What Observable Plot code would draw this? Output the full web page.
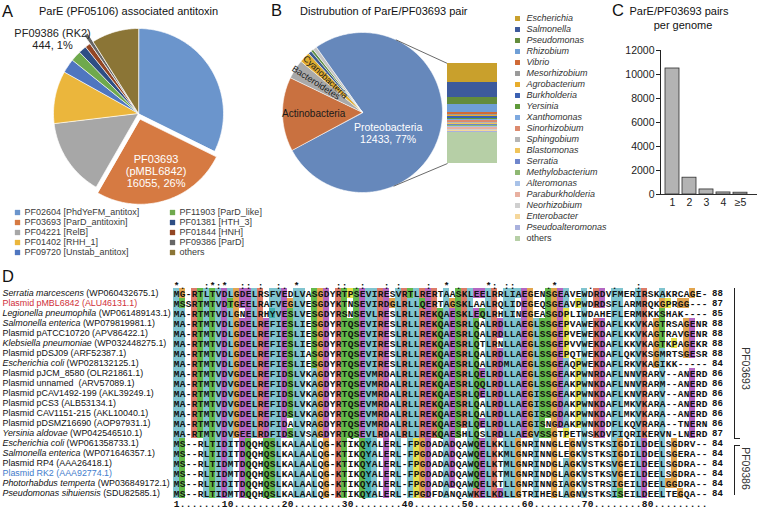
<!DOCTYPE html>
<html><head><meta charset="utf-8">
<script src="https://cdn.jsdelivr.net/npm/d3@7"></script>
<script src="https://cdn.jsdelivr.net/npm/@observablehq/plot@0.6"></script>
<style>
html,body{margin:0;padding:0;background:#fff;}
#fig{position:relative;width:757px;height:509px;overflow:hidden;background:#fff;font-family:"Liberation Sans",Arial,sans-serif;}
</style></head><body><div id="fig"></div>
<script>
// ---------------- DATA ----------------
// Panel A: ParE-associated antitoxin families
const antitoxinFamilies = ["PF02604 [PhdYeFM_antitox]","PF03693 [ParD_antitoxin]","PF04221 [RelB]","PF01402 [RHH_1]","PF09720 [Unstab_antitox]","PF11903 [ParD_like]","PF01381 [HTH_3]","PF01844 [HNH]","PF09386 [ParD]","others"];
const antitoxinCounts = [19945,16055,9139,6175,1667,1235,926,618,444,5546];
const antitoxinCallouts = ["","PF03693\n(pMBL6842)","","","","","","","PF09386 (RK2)",""];

// Panel B: phyla and Proteobacteria genera
const phyla = ["Proteobacteria","Actinobacteria","Bacteroidetes","Cyanobacteria","minor phylum 1","minor phylum 2","minor phylum 3"];
const phylaCounts = [12433,2420,630,355,110,80,119];
const genera = ["Escherichia","Salmonella","Pseudomonas","Rhizobium","Vibrio","Mesorhizobium","Agrobacterium","Burkholderia","Yersinia","Xanthomonas","Sinorhizobium","Sphingobium","Blastomonas","Serratia","Methylobacterium","Alteromonas","Paraburkholderia","Neorhizobium","Enterobacter","Pseudoalteromonas","others"];
const generaCounts = [2360,1870,870,990,190,180,175,175,165,155,155,150,150,145,145,140,135,130,125,125,3903];

// Panel C: pairs per genome
const pairsPerGenome = ["1","2","3","4","≥5"];
const genomeCounts = [10500,1400,420,170,150];
const genomeTicks = [0,2000,4000,6000,8000,10000,12000];

// Panel D: alignment
const seqSpecies = ["Serratia marcescens","","Legionella pneumophila","Salmonella enterica","","Klebsiella pneumoniae","","Escherichia coli","","","","","","","Yersinia aldovae","Escherichia coli","Salmonella enterica","","","Photorhabdus temperta","Pseudomonas sihuiensis"];
const seqLabels = ["(WP060432675.1)","Plasmid pMBL6842 (ALU46131.1)","(WP061489143.1)","(WP079819981.1)","Plasmid pATCC10720 (APV86422.1)","(WP032448275.1)","Plasmid pDSJ09 (ARF52387.1)","(WP028132125.1)","Plasmid pJCM_8580 (OLR21861.1)","Plasmid unnamed  (ARV57089.1)","Plasmid pCAV1492-199 (AKL39249.1)","Plasmid pCS3 (ALB53134.1)","Plasmid CAV1151-215 (AKL10040.1)","Plasmid pDSMZ16690 (AOP97931.1)","(WP042546510.1)","(WP061358733.1)","(WP071646357.1)","Plasmid RP4 (AAA26418.1)","Plasmid RK2 (AAA92774.1)","(WP036849172.1)","(SDU82585.1)"];
const sequences = [
"MG-RTLTVDLGDELRSFVEDLVASGDYRTPSEVIRESVRTLRERTAASKLEELRRLIAEGENSGEAVEWDRDVFMERIRSKAKRCAGE-",
"MSSRTMTVDTGEELRAFVEGLVESGDYKTNSEVIRDGLRLLQERTAGSKLAALRQLIDEGEQSGEAVPWDRDSFLARMRQKGPRGG---",
"MA-RTMTVDLGNELRHYVESLVESGDYRSNSEVLRESLRLLREKQAESKLEQLRHLINEGEASGDPLIWDAHEFLERMKKKSHAK----",
"MA-RTMTVDLGDELREFIESLIESGDYRTQSEVIRESLRLLREKQAESRLQALRDLLAEGLSSGEPVAWEKDAFLKKVKAGTRSAGENR",
"MA-RTMTVDLGDELREFIESLIESGDYRTQSEVIRESLRLLREKQAESRLQALRDLLAEGLSSGEPVEWEKDAFLKKVKAGTRAVGENR",
"MA-RTMTVDLGDELREFIESLIESGDYRTQSEVIRESLRLLREKQAESRLQTLRNLLAEGLSSGEPVVWEKDAFLKKVKAGTKPAGEKR",
"MA-RTMTVDLGDELREFIESLIASGDYRTQSEVIRESLRLLREKQAESRLQALRDLLAEGLSSGEPQTWEKDAFLQKVKSGMRTSGESR",
"MA-RTMTVDLGDELREFIESLIESGDYRTQSEVIRESLRLLREKQAESRLQALRDMLAEGLSSGEAQPWEKDAFLRKVKAGIKK-----",
"MA-RTMTVDVGDELREFIDSLVKAGDYRTQSEVMRDALRLLREKQAESRLQELRDLLAEGLSSGEAKPWNRDAFLNNVRARV--ANERD",
"MA-RTMTVDVGDELREFIDSLVKAGDYRTQSEVMRDALRLLREKQAESRLQQLRDLLAEGLSSGEAKPWNKDAFLNNVRARM--ANERD",
"MA-RTMTVDVGDELREFIDSLVKAGDYRTQSEVMRDALRLLREKQAESRLQELRDLLAEGISSGEAKPWNKDAFLKNVRARV--ANERD",
"MA-RTMTVDVGDELREFIDSLVKAGDYRTQSEVMRDALRLLREKQAESRLQALRDLLAEGISSGDAKPWNKDAFLMKVKARA--ANERD",
"MA-RTMTVDVGDELREFIDSLVKAGDYRTQSEVMRDALRLLREKQAESRLQALRDLLAEGISSGDAKPWNKDAFLMKVKARA--ANERD",
"MA-RTMTVDVGDELRDFIDALVRAGDYRTQSEVMRDALRLLREKQAESRLQELRDLLAEGISNGDAKPWNKDDFLKQVRARA--TNERN",
"MA-RTMTVDVGEELRDFIDSLVSAGDYRTQSEVLRDALRLLREKQAESHLQSLRDLLAEGVSSGTPETWSKDVFIQRIKERVN-LNERD",
"MS--RLTIDITDQQHQSLKALAALQG-KTIKQYALERL-FPGDADADQAWQELKKLLGNRINNGLEGNVSTKSIGDILDDELSGDRV--",
"MS--RLTIDITDQQHQSLKALAALQG-KTIKQYALERL-FPGDADADQAWQELKKMLGNRINNGLEGKVSTKSIGDILDDELSGERA--",
"MS--RLTIDMTDQQHQSLKALAALQG-KTIKQYALERL-FPGDADADQAWQELKTMLGNRINDGLAGKVSTKSVGEILDEELSGDRA--",
"MS--RLTIDMTDQQHQSLKALAALQG-KTIKQYALERL-FPGDADADQAWQELKTMLGNRINDGLAGKVSTKSVGEILDEELSGDRA--",
"MS--RLTIDITDQQHQSLKALAALQG-KTIKQYALERL-FPGDADADQAWQELKTLLGNRINNGIAGKVSTRSIGEILDEELGGDRA--",
"MS--RLTIDMTDQQHQSLKALAALQG-KTIKQYALERL-FPGDFDANQAWKELKDLLGTRIHEGLAGNVSTKSISEILDEELTEGQA--"
];
const seqLengths = [88,87,85,88,88,88,88,84,86,86,86,86,86,86,87,84,84,84,84,84,84];
const conservation = "*.   :*:*  :: :  :. *    . :: .:   : :    :  * .    *: ::     .*     .   .   :           ";
const ruler = "1.......10........20........30........40........50........60........70........80.........";
const familyBrackets = [{name: "PF03693", first: 0, last: 14}, {name: "PF09386", first: 15, last: 20}];

// ---------------- STYLES ----------------
const pieAColors = ["#6b95cc","#d67a42","#a7a7a7","#ebb63c","#4f76c0","#6fa94d","#2e4e84","#934624","#666666","#8b7536"];
const pieAExplode = [0,6,0,0,0,0,0,0,10,0];
const pieBColors = ["#6688bb","#c97140","#a9a9a9","#e0ac30","#3c5a8f","#5f8d45","#c4c4c4"];
const genusColors = ["#c9a02c","#3d5a9c","#638c3c","#6f9fd6","#d06a36","#9a9a9a","#e8ad2c","#3b61b2","#5f9a3a","#7ea9df","#dc8a6e","#b5b5b5","#f0c45a","#6f86cc","#8eb872","#a8c2e8","#e8b0a0","#cfcfcf","#f5d79b","#a9b1dd","#b6cfa6"];
const aaClasses = ["hyd","pos","neg","pol","gly","pro","aro","cys"];
const aaColors = ["#80c4cf","#dc7b68","#b466c2","#63b94a","#e2a54e","#e6e24c","#40b0b0","#f08080"];
const FONT = "'Liberation Sans', Arial, sans-serif";
const MONO = "'Liberation Mono', 'Courier New', monospace";

const fig = document.getElementById("fig");
function place(svg, left, top) {
  svg.style.position = "absolute"; svg.style.left = left + "px"; svg.style.top = top + "px";
  svg.style.background = "transparent"; svg.style.maxWidth = "none"; svg.style.overflow = "visible";
  svg.style.fontFamily = FONT;
  fig.appendChild(svg);
}
function pieGeometry(labels, values, start, R, explode) {
  const total = d3.sum(values);
  const pts = [], slices = [];
  let a = start;
  labels.forEach((label, i) => {
    const a0 = a, a1 = a + values[i] / total * 360; a = a1;
    const mid = (a0 + a1) / 2, m = mid * Math.PI / 180, e = explode ? explode[i] : 0;
    const ox = e * Math.sin(m), oy = -e * Math.cos(m);
    pts.push({label, x: ox, y: oy});
    const n = Math.max(2, Math.ceil(a1 - a0));
    for (let k = 0; k <= n; k++) {
      const t = (a0 + (a1 - a0) * k / n) * Math.PI / 180;
      pts.push({label, x: ox + R * Math.sin(t), y: oy - R * Math.cos(t)});
    }
    slices.push({label, value: values[i], mid, ox, oy, pct: Math.round(values[i] / total * 100)});
  });
  return {pts, slices, total};
}
function polar(angleDeg, r, ox = 0, oy = 0) { const t = angleDeg * Math.PI / 180; return {x: ox + r * Math.sin(t), y: oy - r * Math.cos(t)}; }

// ---------------- PANEL A ----------------
{
  const R = 85;
  const g = pieGeometry(antitoxinFamilies, antitoxinCounts, 0, R, pieAExplode);
  const s1 = g.slices[1], s8 = g.slices[8];
  const inLab = [{...polar(s1.mid, 0.64 * R, s1.ox, s1.oy), text: `${antitoxinCallouts[1]}\n${s1.value}, ${s1.pct}%`}];
  const outLab = [{...polar(311, 1.34 * R), text: `${antitoxinCallouts[8]}\n${s8.value}, ${s8.pct}%`}];
  const svg = Plot.plot({
    width: 270, height: 185, margin: 0,
    x: {domain: [-138, 132], range: [0, 270], axis: null},
    y: {domain: [-93, 92], range: [0, 185], axis: null},
    color: {domain: antitoxinFamilies, range: pieAColors},
    marks: [
      Plot.line(g.pts, {x: "x", y: "y", z: "label", fill: "label", stroke: "white", strokeWidth: 0.7, curve: "linear-closed"}),
      Plot.text(inLab, {x: "x", y: "y", text: "text", fill: "white", fontSize: 11, lineHeight: 1.1}),
      Plot.text(outLab, {x: "x", y: "y", text: "text", fill: "#222", fontSize: 11, lineHeight: 1.15})
    ]
  });
  place(svg, 0, 20);
  const leg = antitoxinFamilies.map((f, i) => ({f, col: Math.floor(i / 5), row: i % 5}));
  const svgL = Plot.plot({
    width: 270, height: 55, margin: 0,
    x: {type: "linear", domain: [0, 1], range: [17, 172], axis: null},
    y: {type: "point", domain: [0, 1, 2, 3, 4], range: [7, 47], padding: 0, axis: null},
    color: {domain: antitoxinFamilies, range: pieAColors},
    marks: [
      Plot.dot(leg, {x: "col", y: "row", fill: "f", symbol: "square", r: 3}),
      Plot.text(leg, {x: "col", y: "row", text: "f", dx: 7, textAnchor: "start", fontSize: 9, fill: "#3a3a3a"})
    ]
  });
  place(svgL, 0, 205);
}

// ---------------- PANEL B ----------------
{
  const R = 80, cx = 362, cy = 112;           // pie centre on page
  const bar = {left: 447, top: 63, width: 50, height: 100};
  const g = pieGeometry(phyla, phylaCounts, -35.5, R, null);
  function tangent(px, py, upper) {
    const d = Math.hypot(px, py), base = Math.atan2(py, px), al = Math.acos(R / d);
    const t = upper ? base - al : base + al;
    return {x1: R * Math.cos(t), y1: R * Math.sin(t), x2: px, y2: py};
  }
  const links = [tangent(bar.left - cx, bar.top - cy, true), tangent(bar.left - cx, bar.top + bar.height - cy, false)];
  const sP = g.slices[0], sA = g.slices[1], sB = g.slices[2], sC = g.slices[3];
  const svg = Plot.plot({
    width: 220, height: 172, margin: 0,
    x: {domain: [-82, 138], range: [0, 220], axis: null},
    y: {domain: [-84, 88], range: [0, 172], axis: null},
    color: {domain: phyla, range: pieBColors},
    marks: [
      Plot.line(g.pts, {x: "x", y: "y", z: "label", fill: "label", stroke: "white", strokeWidth: 0.6, curve: "linear-closed"}),
      Plot.link(links, {x1: "x1", y1: "y1", x2: "x2", y2: "y2", stroke: "#444", strokeWidth: 0.8}),
      Plot.text([{...polar(129, 33), t: `${sP.label}\n${sP.value}, ${sP.pct}%`}], {x: "x", y: "y", text: "t", fill: "white", fontSize: 10.5, lineHeight: 1.15}),
      Plot.text([{...polar(sA.mid, 0.61 * R), t: sA.label}], {x: "x", y: "y", text: "t", fill: "#1a1a1a", fontSize: 10}),
      Plot.text([{...polar(sB.mid, 0.69 * R), t: sB.label}], {x: "x", y: "y", text: "t", fill: "#1a1a1a", fontSize: 9, rotate: sB.mid - 270}),
      Plot.text([{...polar(sC.mid, 0.64 * R), t: sC.label}], {x: "x", y: "y", text: "t", fill: "#1a1a1a", fontSize: 9, rotate: sC.mid - 270})
    ]
  });
  place(svg, cx - 82, cy - 84);
  const gdata = genera.map((genus, i) => ({genus, count: generaCounts[i]}));
  const svgBar = Plot.plot({
    width: bar.width, height: bar.height, margin: 0,
    x: {domain: ["Proteobacteria"], padding: 0, axis: null},
    y: {domain: [0, d3.sum(generaCounts)], axis: null},
    color: {domain: genera, range: genusColors},
    marks: [Plot.barY(gdata, {x: () => "Proteobacteria", y: "count", fill: "genus", reverse: true, shapeRendering: "crispEdges"})]
  });
  place(svgBar, bar.left, bar.top);
  const svgLeg = Plot.plot({
    width: 115, height: 240, margin: 0,
    x: {type: "linear", domain: [0, 1], range: [12, 112], axis: null},
    y: {type: "point", domain: genera, range: [8, 231], padding: 0, axis: null},
    color: {domain: genera, range: genusColors},
    marks: [
      Plot.dot(genera, {x: () => 0, y: d => d, fill: d => d, symbol: "square", r: 2.8}),
      Plot.text(genera.filter(d => d !== "others"), {x: () => 0, y: d => d, text: d => d, dx: 9, textAnchor: "start", fontSize: 9, fontStyle: "italic", fill: "#333"}),
      Plot.text(genera.filter(d => d === "others"), {x: () => 0, y: d => d, text: d => d, dx: 9, textAnchor: "start", fontSize: 9, fill: "#333"})
    ]
  });
  place(svgLeg, 505, 8);
}

// ---------------- PANEL C ----------------
{
  const data = pairsPerGenome.map((k, i) => ({k, v: genomeCounts[i]}));
  const svg = Plot.plot({
    width: 157, height: 175, marginLeft: 60, marginTop: 10, marginBottom: 21, marginRight: 0,
    style: {fontSize: "10.5px"},
    x: {domain: pairsPerGenome, range: [61.7, 149.8], padding: 0.15, tickSize: 0, tickPadding: 4, label: null},
    y: {domain: [0, 12000], ticks: genomeTicks, tickFormat: d => String(d), tickSize: 4, tickPadding: 2, line: true, label: null},
    marks: [
      Plot.barY(data, {x: "k", y: "v", fill: "#b3b3b3", stroke: "#2e2e2e", strokeWidth: 0.8}),
      Plot.ruleY([0], {stroke: "#2e2e2e", strokeWidth: 1})
    ]
  });
  place(svg, 600, 40);
  svg.style.fontSize = "10.5px"; svg.style.color = "#222";
}

// ---------------- PANEL D ----------------
{
  const n = sequences.length, L = sequences[0].length;
  // ClustalX colouring rules
  const cls = sequences.map(() => []);
  for (let c = 0; c < L; c++) {
    const col = sequences.map(s => s[c]);
    const cnt = {}; col.forEach(a => cnt[a] = (cnt[a] || 0) + 1);
    const f = s => [...s].reduce((t, a) => t + (cnt[a] || 0), 0) / n;
    const any = (s, th) => [...s].some(a => (cnt[a] || 0) / n > th);
    const hyd = f("WLVIMAFCHP") > 0.6, kr = f("KR") > 0.6, qe = f("QE") > 0.5, ed = f("ED") > 0.5, ts = f("TS") > 0.5;
    col.forEach((a, r) => {
      let k = null;
      if ("AILMFWV".includes(a)) { if (hyd) k = "hyd"; }
      else if (a === "C") { if (hyd) k = "hyd"; if (f("C") > 0.85) k = "cys"; }
      else if (a === "K" || a === "R") { if (kr || any("KRQ", 0.8)) k = "pos"; }
      else if (a === "E") { if (kr || qe || ed || any("EQD", 0.85)) k = "neg"; }
      else if (a === "D") { if (kr || any("KRQ", 0.85) || ed) k = "neg"; }
      else if (a === "N") { if (f("N") > 0.5 || any("NY", 0.85)) k = "pol"; }
      else if (a === "Q") { if (kr || qe || any("QEKR", 0.85)) k = "pol"; }
      else if (a === "S" || a === "T") { if (hyd || ts || any("ST", 0.85)) k = "pol"; }
      else if (a === "G") k = "gly";
      else if (a === "P") k = "pro";
      else if (a === "H" || a === "Y") { if (hyd || any("WYACPQFHILMV", 0.85)) k = "aro"; }
      cls[r][c] = k;
    });
  }
  const cells = [];
  sequences.forEach((s, r) => [...s].forEach((aa, c) => cells.push({row: r, col: c + 1, aa, cls: cls[r][c]})));
  const cons = [...conservation].map((ch, i) => ({col: i + 1, ch})).filter(d => d.ch !== " ");
  const rul = [...ruler].map((ch, i) => ({col: i + 1, ch}));
  const rows = d3.range(n).map(i => ({row: i, len: seqLengths[i]}));
  const rowKeys = ["cons", ...d3.range(n), "ruler"];
  const yScale = {type: "band", domain: rowKeys, range: [3, 233], padding: 0, axis: null};
  const txt = {fontFamily: MONO, fontWeight: "bold", fontSize: 9.5, fill: "#111"};
  const br0 = familyBrackets[0], br1 = familyBrackets[1];
  const svg = Plot.plot({
    width: 757, height: 234, margin: 0,
    x: {type: "band", domain: d3.range(1, 97), range: [172, 750], padding: 0, axis: null},
    y: yScale,
    color: {domain: aaClasses, range: aaColors},
    marks: [
      Plot.cell(cells.filter(d => d.cls), {x: "col", y: "row", fill: "cls", inset: 0, shapeRendering: "crispEdges"}),
      Plot.text(cells, {x: "col", y: "row", text: "aa", ...txt}),
      Plot.text(cons, {x: "col", y: () => "cons", text: "ch", ...txt, dy: 2}),
      Plot.text(rul, {x: "col", y: () => "ruler", text: "ch", ...txt}),
      Plot.text(rows, {x: () => 91, y: "row", text: "len", ...txt, fontSize: 9, dx: 1}),
      Plot.ruleX([br0], {x: () => 94, y1: d => d.first, y2: d => d.last, stroke: "#222", strokeWidth: 1}),
      Plot.ruleX([br1], {x: () => 94, y1: d => d.first, y2: d => d.last, stroke: "#222", strokeWidth: 1, insetTop: 7, insetBottom: 3}),
      Plot.ruleY([br0], {y: d => d.last, x1: () => 94, x2: () => 95, insetLeft: 3, insetRight: 3, dy: 5, stroke: "#222"}),
      Plot.ruleY([br1], {y: d => d.first, x1: () => 94, x2: () => 95, insetLeft: 3, insetRight: 3, dy: 2, stroke: "#222"}),
      Plot.text(familyBrackets, {x: () => 96, y: d => Math.floor((d.first + d.last) / 2), text: "name", rotate: 90, dx: -1.5, dy: 5, fontSize: 10.5, fill: "#333", fontFamily: FONT})
    ]
  });
  place(svg, 0, 275);
  // names
  const NFS = 8.9;
  const ctx = document.createElement("canvas").getContext("2d");
  ctx.font = `italic ${NFS}px 'Liberation Sans'`;
  const names = seqLabels.map((lab, i) => {
    const sp = seqSpecies[i];
    const w = sp ? ctx.measureText(sp + " ").width : 0;
    const color = i === 1 ? "#cf2f3a" : i === 18 ? "#3f7ccc" : "#111";
    return {row: i, sp, lab, x2: 2 + w, color};
  });
  const svgN = Plot.plot({
    width: 171, height: 234, margin: 0,
    x: {type: "linear", domain: [0, 171], range: [0, 171], axis: null},
    y: yScale,
    marks: [
      Plot.text(names.filter(d => d.sp), {x: () => 2, y: "row", text: "sp", fontStyle: "italic", textAnchor: "start", fontSize: NFS, fill: "#111"}),
      Plot.text(names, {x: "x2", y: "row", text: "lab", textAnchor: "start", fontSize: NFS, fill: "color"})
    ]
  });
  place(svgN, 0, 275);
}

// ---------------- TITLES ----------------
{
  const svg = d3.create("svg").attr("width", 757).attr("height", 509).attr("font-family", FONT).node();
  const s = d3.select(svg);
  const T = [
    ["A", 2, 17, 16.5, "start"], ["ParE (PF05106) associated antitoxin", 39, 15, 11, "start"],
    ["B", 271, 16, 16.5, "start"], ["Distrubution of ParE/PF03693 pair", 300, 15, 11, "start"],
    ["C", 612, 16, 16.5, "start"], ["ParE/PF03693 pairs", 679, 15, 11, "middle"], ["per genome", 683, 28.5, 11, "middle"],
    ["D", 2, 282, 16.5, "start"]
  ];
  T.forEach(([t, x, y, fs, a]) => s.append("text").attr("x", x).attr("y", y).attr("font-size", fs).attr("text-anchor", a).attr("fill", "#111").text(t));
  svg.style.position = "absolute"; svg.style.left = "0px"; svg.style.top = "0px"; svg.style.pointerEvents = "none";
  fig.appendChild(svg);
}
</script></body></html>
